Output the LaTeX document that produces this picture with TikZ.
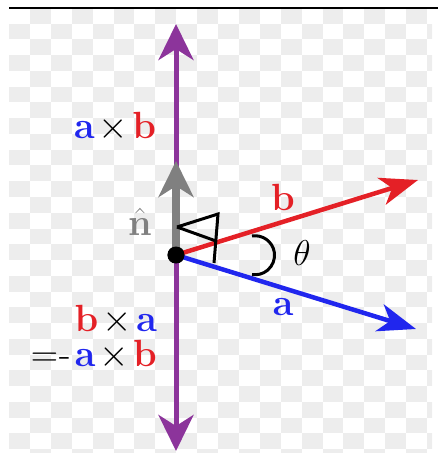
\RequirePackage{fix-cm}
\documentclass[tikz,border=0pt]{standalone}
\usepackage{tikz}
\usetikzlibrary{arrows.meta}
\usepackage{color}

\definecolor{vecred}{RGB}{228,32,38}
\definecolor{vecblue}{RGB}{32,38,238}
\definecolor{vecpurple}{RGB}{140,52,155}
\definecolor{vecgray}{RGB}{128,128,128}
\definecolor{checkgray}{RGB}{237,237,237}

\newcommand{\vx}{\mkern2mu{\times}\mkern2mu}

\begin{document}
\begin{tikzpicture}[x=1bp, y=-1bp,
    lbl/.style={inner sep=0pt, font=\fontsize{38}{38}\selectfont},
    vec/.style={line width=4.5bp, -{Stealth[length=38bp, width=28bp, inset=11bp]}}]
  \useasboundingbox (0,0) rectangle (438,455);

  % checker background
  \begin{scope}
    \clip (9,8) rectangle (432,452);
    \foreach \i in {0,...,20} {
      \foreach \j in {0,...,28} {
        \pgfmathtruncatemacro\k{\i+\j}
        \ifodd\k
          \fill[checkgray] ({9+\i*20.9},{8+\j*15.75}) rectangle ++(20.9,15.75);
        \fi
      }
    }
  \end{scope}
  \draw[line width=1.5bp] (9,8) -- (438,8);

  % origin and arrow ends
  \node[circle, fill=black, inner sep=0pt, minimum size=17bp] (O) at (176,255) {};
  \coordinate (ptop) at (176,24);
  \coordinate (pbot) at (176,451);
  \coordinate (ntip) at (176,161);
  \coordinate (btip) at (418,180);
  \coordinate (atip) at (416,329);

  % cross product axis (purple)
  \draw[vecpurple, line width=5bp, -{Stealth[length=36bp, width=35bp, inset=11bp]}] (O.center) -- (ptop);
  \draw[vecpurple, line width=5bp, -{Stealth[length=36bp, width=35bp, inset=11bp]}] (O.center) -- (pbot);

  % unit normal (gray)
  \draw[vecgray, line width=8bp, -{Stealth[length=36bp, width=35bp, inset=11bp]}] (O.center) -- (ntip);

  % vectors a and b
  \draw[vecred, vec] (O.center) -- (btip);
  \draw[vecblue, vec] (O.center) -- (atip);

  % right angle mark
  \draw[line width=3bp, line join=miter] (177,227) -- (218,214) -- (214,263);
  \draw[line width=3bp] (177,227) -- (216,241);

  % angle theta
  \draw[line width=3bp] (252,236) arc[start angle=-99, end angle=99, radius=19.5];

  \node[circle, fill=black, inner sep=0pt, minimum size=17bp] at (O) {};

  % labels
  \node[lbl] (axb) at (115,127) {$\mathbf{\color{vecblue}a}\vx\mathbf{\color{vecred}b}$};
  \node[lbl, anchor=base east] (bxa) at (157,331) {$\mathbf{\color{vecred}b}\vx\mathbf{\color{vecblue}a}$};
  \node[lbl, anchor=base east] (eqn) at (157,366) {$=$\kern1bp-\kern4bp$\mathbf{\color{vecblue}a}\vx\mathbf{\color{vecred}b}$};
  \node[lbl, text=vecgray] (nlbl) at (140,222) {$\hat{\mathbf{n}}$};
  \node[lbl, text=vecred] (blbl) at (283,197) {$\mathbf{b}$};
  \node[lbl, text=vecblue] (albl) at (283,307) {$\mathbf{a}$};
  \node[lbl, font=\fontsize{36}{36}\selectfont] (th) at (302,253) {$\theta$};
\end{tikzpicture}
\end{document}
